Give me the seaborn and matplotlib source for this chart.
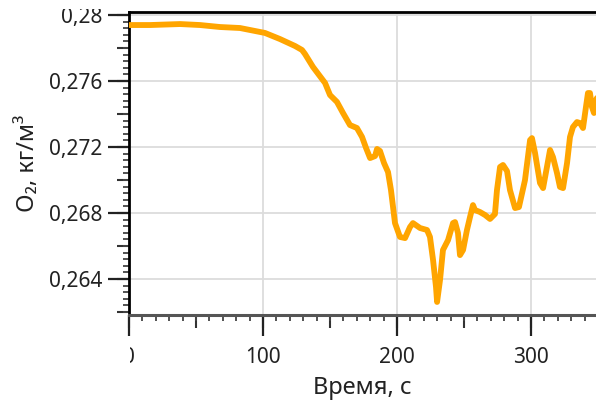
import matplotlib
matplotlib.use("Agg")
import matplotlib.pyplot as plt
import seaborn as sns
import numpy as np
import pandas as pd
from matplotlib.ticker import MultipleLocator, NullFormatter
from matplotlib.transforms import Bbox, TransformedBbox

# values
time_s = [0, 15.7, 38.1, 53.0, 67.9, 82.8, 94.0, 101.5, 112.7, 123.9, 129.1, 131.3,
          137.3, 146.3, 150.0, 155.2, 159.7, 164.9, 170.1, 173.9, 176.9, 179.9, 183.6,
          185.1, 187.3, 190.3, 193.3, 195.5, 198.5, 202.2, 206.0, 209.7, 211.9, 217.2,
          222.4, 224.6, 226.9, 229.1, 229.9, 232.1, 234.3, 238.1, 241.8, 243.3, 245.5,
          247.0, 249.3, 252.2, 254.5, 256.7, 258.2, 261.9, 265.7, 269.4, 273.1, 274.6,
          276.9, 279.1, 282.1, 284.3, 288.1, 291.0, 295.5, 299.3, 300.7, 303.0, 306.7,
          309.0, 311.9, 314.2, 316.4, 319.4, 321.6, 323.9, 326.9, 329.1, 331.3, 334.3,
          336.6, 338.8, 341.0, 342.5, 344.0, 345.5, 347.0, 348.5, 351.5]
o2 = [0.27939, 0.27939, 0.27945, 0.27939, 0.27927, 0.27921, 0.27903, 0.27891, 0.27854,
      0.27812, 0.27788, 0.27764, 0.27685, 0.27588, 0.27515, 0.27473, 0.27406, 0.27333,
      0.27315, 0.27261, 0.27194, 0.27133, 0.27145, 0.27188, 0.27176, 0.27103, 0.27048,
      0.26939, 0.26739, 0.26655, 0.26648, 0.26715, 0.26739, 0.26709, 0.26697, 0.26655,
      0.26515, 0.26352, 0.26261, 0.26394, 0.26576, 0.26636, 0.26739, 0.26745, 0.26679,
      0.26545, 0.26576, 0.26697, 0.26776, 0.26848, 0.26818, 0.26806, 0.26788, 0.26764,
      0.26794, 0.26939, 0.27079, 0.27091, 0.27054, 0.26939, 0.26830, 0.26836, 0.26999,
      0.27242, 0.27254, 0.27164, 0.26982, 0.26951, 0.27079, 0.27182, 0.27139, 0.27042,
      0.26958, 0.26951, 0.27103, 0.27261, 0.27321, 0.27351, 0.27345, 0.27315, 0.27442,
      0.27527, 0.27527, 0.27442, 0.27406, 0.27485, 0.27533]

x_lim = (0, 348.5)
y_lim = (0.26182, 0.28018)

sns.set_style("white")
plt.rcParams['font.family'] = ['Noto Sans', 'DejaVu Sans']

df = pd.DataFrame({"t": time_s, "o2": o2})

fig = plt.figure(figsize=(5.96, 4.12), dpi=100)
pos = [129 / 596, 1 - 315 / 412, 1 - 129 / 596, (315 - 12) / 412]
ax = fig.add_axes(pos)

sns.lineplot(data=df, x="t", y="o2", ax=ax, color="#FFA500", linewidth=4.2, zorder=3,
             solid_joinstyle="round", solid_capstyle="round")

ax.set_xlim(*x_lim)
ax.set_ylim(*y_lim)
ax.xaxis.set_major_locator(MultipleLocator(100))
ax.xaxis.set_minor_locator(MultipleLocator(10))
ax.yaxis.set_major_locator(MultipleLocator(0.004))
ax.yaxis.set_minor_locator(MultipleLocator(0.0004))
ax.yaxis.set_major_formatter(lambda v, p: f"{v:.3f}".rstrip("0").replace(".", ","))

ax.grid(True, which="major", color="#dcdcdc", linewidth=1.3)
ax.tick_params(which="major", direction="out", length=15, width=1.6, color="#222222",
               labelsize=15, labelcolor="#222222", left=True, bottom=True)
ax.tick_params(axis="x", which="major", pad=8)
ax.tick_params(axis="y", which="major", pad=4)
ax.tick_params(which="minor", direction="out", length=4, width=1.3, color="#444444",
               left=True, bottom=True)

for side in ["left", "top"]:
    ax.spines[side].set_color("black")
    ax.spines[side].set_linewidth(2)
ax.spines["bottom"].set_color("#555555")
ax.spines["bottom"].set_linewidth(2.2)
ax.spines["right"].set_visible(False)

ax.set_xlabel("Время, с", fontsize=17, color="#222222", labelpad=6)
ax.set_ylabel("O₂, кг/м³", fontsize=17, color="#222222", labelpad=7)

# medium ticks (every 50 s and every 0.002) on an overlay axes
ax2 = fig.add_axes(pos)
ax2.set_xlim(*x_lim)
ax2.set_ylim(*y_lim)
ax2.patch.set_visible(False)
for s in ax2.spines.values():
    s.set_visible(False)
ax2.xaxis.set_major_locator(MultipleLocator(50))
ax2.yaxis.set_major_locator(MultipleLocator(0.002))
ax2.xaxis.set_major_formatter(NullFormatter())
ax2.yaxis.set_major_formatter(NullFormatter())
ax2.tick_params(which="major", direction="out", length=9, width=1.5, color="#333333",
                left=True, bottom=True)
ax2.set_zorder(ax.get_zorder() - 1)

# clip tick labels like the cropped original
fig.canvas.draw()
clip_x = TransformedBbox(Bbox([[129.5 / 596, 0], [1, 1]]), fig.transFigure)
clip_y = TransformedBbox(Bbox([[0, 0], [1, 1 - 9 / 412]]), fig.transFigure)
for t in ax.xaxis.get_major_ticks():
    t.label1.set_clip_box(clip_x)
    t.label1.set_clip_on(True)
for t in ax.yaxis.get_major_ticks():
    t.label1.set_clip_box(clip_y)
    t.label1.set_clip_on(True)

fig.savefig("out.png", dpi=100)
